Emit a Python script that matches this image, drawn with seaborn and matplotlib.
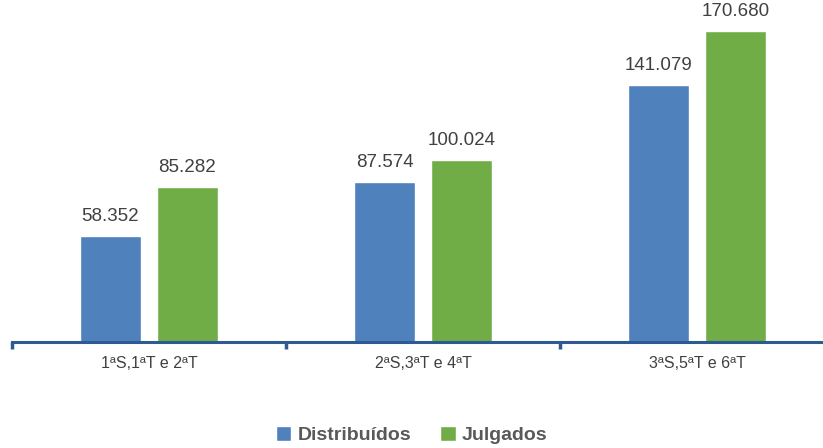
import numpy as np
import pandas as pd
import seaborn as sns
from matplotlib import pyplot as plt
from matplotlib.patches import Patch

categories = ['1ªS,1ªT e 2ªT', '2ªS,3ªT e 4ªT', '3ªS,5ªT e 6ªT']
distribuidos = [58352, 87574, 141079]
julgados = [85282, 100024, 170680]
series = ['Distribuídos', 'Julgados']
colors = ['#4F81BD', '#70AD47']

df = pd.DataFrame({
    'grupo': categories * 2,
    'serie': [series[0]] * 3 + [series[1]] * 3,
    'valor': distribuidos + julgados,
})

sns.set_style('white')
plt.rcParams['font.family'] = ['Liberation Sans', 'DejaVu Sans']

fig = plt.figure(figsize=(8.23, 4.48), dpi=100)
ax = fig.add_axes([12 / 823, 1 - 342 / 448, 810 / 823, 342 / 448])

sns.barplot(data=df, x='grupo', y='valor', hue='serie', palette=colors,
            width=0.562, gap=0.196, saturation=1, legend=False, ax=ax)

for cont in ax.containers:
    labels = [f'{int(v):,}'.replace(',', '.') for v in cont.datavalues]
    ax.bar_label(cont, labels=labels, padding=8, fontsize=13.5, color='#404040')

ax.set_yticks([])
ax.set_xlabel('')
ax.set_ylabel('')
for s in ['top', 'right', 'left']:
    ax.spines[s].set_visible(False)
ax.spines['bottom'].set_color('#2E5A94')
ax.spines['bottom'].set_linewidth(2.2)

ax.set_xticks(range(len(categories)))
ax.set_xticklabels(categories, fontsize=11.5, color='#404040')
ax.tick_params(axis='x', which='major', length=0, pad=10)
ax.set_xticks([-0.5, 0.5, 1.5, 2.5], minor=True)
ax.tick_params(axis='x', which='minor', bottom=True, length=5, width=2.5,
               color='#2E5A94', direction='out')

# limits after the ticks, so the tick at 2.5 does not widen the view
ax.set_ylim(0, 187700)
ax.set_xlim(-0.5, -0.5 + 810 / 274)

handles = [Patch(facecolor=c, label=s) for c, s in zip(colors, series)]
leg = fig.legend(handles=handles, loc='lower center', ncol=2, frameon=False,
                 bbox_to_anchor=(0.5, -0.03), handlelength=0.8, handleheight=0.8,
                 handletextpad=0.3, columnspacing=1.5,
                 prop={'weight': 'bold', 'size': 14})
for t in leg.get_texts():
    t.set_color('#595959')

fig.savefig('out.png', dpi=100)
